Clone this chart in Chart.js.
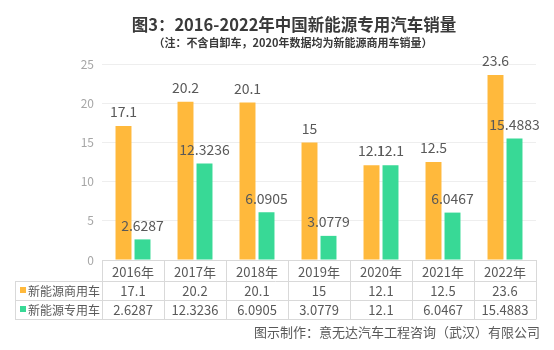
<!DOCTYPE html>
<html>
<head>
<meta charset="utf-8">
<script src="https://cdn.jsdelivr.net/npm/chart.js@4/dist/chart.umd.min.js"></script>
<style>
  html, body { margin: 0; padding: 0; background: #fff; }
  #wrap { width: 554px; height: 350px; }
</style>
</head>
<body>
<div id="wrap"><canvas id="chart" width="554" height="350"></canvas></div>
<script>
// Data
const years = ['2016年', '2017年', '2018年', '2019年', '2020年', '2021年', '2022年'];
const commercial = [17.1, 20.2, 20.1, 15, 12.1, 12.5, 23.6];
const special = [2.6287, 12.3236, 6.0905, 3.0779, 12.1, 6.0467, 15.4883];
const seriesNames = ['新能源商用车', '新能源专用车'];
const yTicks = [0, 5, 10, 15, 20, 25];

const titleText = '图3：2016-2022年中国新能源专用汽车销量';
const subtitleText = '（注：不含自卸车，2020年数据均为新能源商用车销量）';
const footerText = '图示制作：意无达汽车工程咨询（武汉）有限公司';

const orange = '#FFB93C';
const green = '#38D996';
const textGrey = '#595959';
const lineGrey = '#d9d9d9';
const FONT = '"Noto Sans CJK SC", sans-serif';

Chart.defaults.font.family = FONT;

// title block (the reference title sits a bit right of centre)
const titles = {
    id: 'titles',
    afterDraw(chart) {
        const ctx = chart.ctx;
        ctx.save();
        ctx.fillStyle = '#3a3a3a';
        ctx.textAlign = 'center';
        ctx.textBaseline = 'middle';
        ctx.font = 'bold 16.5px ' + FONT;
        ctx.fillText(titleText, 294, 25);
        ctx.font = 'bold 11px ' + FONT;
        ctx.fillText(subtitleText, 293, 43);
        ctx.restore();
    }
};

// value labels above bars
const barLabels = {
    id: 'barLabels',
    afterDatasetsDraw(chart) {
        const ctx = chart.ctx;
        ctx.save();
        ctx.font = '14px ' + FONT;
        ctx.fillStyle = textGrey;
        ctx.textAlign = 'center';
        ctx.textBaseline = 'bottom';
        chart.data.datasets.forEach((ds, i) => {
            chart.getDatasetMeta(i).data.forEach((bar, j) => {
                ctx.fillText(String(ds.data[j]), bar.x, bar.y - 7);
            });
        });
        ctx.restore();
    }
};

// data table under the axis + footer
const dataTable = {
    id: 'dataTable',
    afterDraw(chart) {
        const ctx = chart.ctx;
        const area = chart.chartArea;
        const xs = chart.scales.x;
        const colW = (area.right - area.left) / years.length;
        const r0 = area.bottom;
        const r1 = r0 + 20.5;
        const r2 = r1 + 19;
        const r3 = r2 + 19;
        const tableLeft = 15;

        ctx.save();
        ctx.strokeStyle = lineGrey;
        ctx.lineWidth = 1;
        ctx.beginPath();
        [r1, r2, r3].forEach(y => {
            ctx.moveTo(tableLeft, Math.round(y) + 0.5);
            ctx.lineTo(area.right, Math.round(y) + 0.5);
        });
        for (let i = 0; i <= years.length; i++) {
            const x = Math.round(area.left + i * colW) + 0.5;
            ctx.moveTo(x, r0);
            ctx.lineTo(x, Math.round(r3) + 0.5);
        }
        ctx.moveTo(tableLeft + 0.5, Math.round(r1) + 0.5);
        ctx.lineTo(tableLeft + 0.5, Math.round(r3) + 0.5);
        ctx.stroke();

        // values
        ctx.fillStyle = textGrey;
        ctx.textBaseline = 'middle';
        ctx.textAlign = 'center';
        ctx.font = '13px ' + FONT;
        const rowsData = [commercial, special];
        const rowMid = [(r1 + r2) / 2, (r2 + r3) / 2];
        rowsData.forEach((vals, k) => {
            vals.forEach((v, i) => {
                ctx.fillText(String(v), xs.getPixelForValue(i), rowMid[k] + 1);
            });
        });

        // legend cells
        ctx.textAlign = 'left';
        ctx.font = '12px ' + FONT;
        [orange, green].forEach((c, k) => {
            ctx.fillStyle = c;
            ctx.fillRect(20, Math.round(rowMid[k]) - 3, 6, 6);
            ctx.fillStyle = textGrey;
            ctx.fillText(seriesNames[k], 28, rowMid[k] + 1);
        });

        // footer
        ctx.textAlign = 'right';
        ctx.font = '13px ' + FONT;
        ctx.fillStyle = textGrey;
        ctx.fillText(footerText, 540, 332);
        ctx.restore();
    }
};

new Chart(document.getElementById('chart'), {
    type: 'bar',
    data: {
        labels: years,
        datasets: [
            { label: seriesNames[0], data: commercial, backgroundColor: orange },
            { label: seriesNames[1], data: special, backgroundColor: green }
        ]
    },
    options: {
        responsive: false,
        animation: false,
        devicePixelRatio: 1,
        categoryPercentage: 0.613,
        barPercentage: 0.84,
        layout: { padding: { left: 0, right: 18, top: 64, bottom: 0 } },
        plugins: {
            legend: { display: false },
            tooltip: { enabled: false },
            title: { display: false }
        },
        scales: {
            x: {
                grid: { display: false, drawTicks: false },
                border: { color: lineGrey },
                ticks: { color: textGrey, font: { size: 13 }, padding: 4 },
                afterFit(scale) { scale.height = 90; }
            },
            y: {
                min: 0,
                max: 25,
                afterBuildTicks(scale) { scale.ticks = yTicks.map(v => ({ value: v })); },
                grid: { color: '#eeeeee', drawTicks: false },
                border: { display: false },
                ticks: { color: '#a6a6a6', font: { size: 12 }, padding: 8 },
                afterFit(scale) { scale.width = 102; }
            }
        }
    },
    plugins: [barLabels, dataTable, titles]
});
</script>
</body>
</html>
